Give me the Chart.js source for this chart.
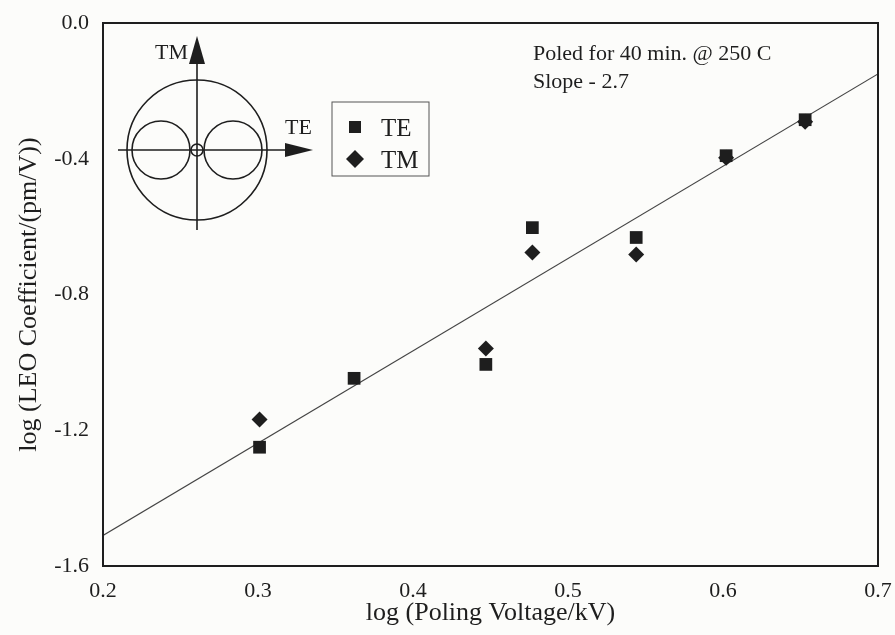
<!DOCTYPE html>
<html>
<head>
<meta charset="utf-8">
<script src="https://cdn.jsdelivr.net/npm/chart.js@4.4.1/dist/chart.umd.min.js"></script>
<style>
  html, body { margin: 0; padding: 0; background: #fcfcfa; }
</style>
</head>
<body>
<canvas id="myChart" width="895" height="635"></canvas>
<script>
'use strict';
// log poling voltage vs log LEO coefficient
let voltTE = [0.301, 0.362, 0.447, 0.477, 0.544, 0.602, 0.653];
let coeffTE = [-1.25, -1.047, -1.006, -0.603, -0.632, -0.391, -0.285];
let voltTM = [0.301, 0.447, 0.477, 0.544, 0.602, 0.653];
let coeffTM = [-1.168, -0.959, -0.676, -0.682, -0.397, -0.291];
let fitX = [0.2, 0.7];
let fitY = [-1.51, -0.15];
let xTicks = [0.2, 0.3, 0.4, 0.5, 0.6, 0.7];
let yTicks = [0, -0.4, -0.8, -1.2, -1.6];
let notes = ['Poled for 40 min. @ 250 C', 'Slope - 2.7'];

const ink = '#1e1e1e';
const serif = '"Liberation Serif", "Times New Roman", serif';

function toPoints(xs, ys) {
    let pts = [];
    for (let i = 0; i < xs.length; i++) {
        pts.push({ x: xs[i], y: ys[i] });
    }
    return pts;
}

// frame, polarisation sketch, legend box and notes
const decor = {
    id: 'decor',
    afterDraw(chart) {
        const ctx = chart.ctx;
        const a = chart.chartArea;
        ctx.save();
        ctx.strokeStyle = ink;
        ctx.lineWidth = 2;
        ctx.strokeRect(a.left, a.top, a.right - a.left, a.bottom - a.top);

        // sketch: outer circle, two lobes, axes with arrows
        const cx = a.left + 94, cy = a.top + 127;
        ctx.lineWidth = 1.6;
        ctx.beginPath(); ctx.arc(cx, cy, 70, 0, Math.PI * 2); ctx.stroke();
        ctx.beginPath(); ctx.arc(cx - 36, cy, 29, 0, Math.PI * 2); ctx.stroke();
        ctx.beginPath(); ctx.arc(cx + 36, cy, 29, 0, Math.PI * 2); ctx.stroke();
        ctx.beginPath(); ctx.arc(cx, cy, 6, 0, Math.PI * 2); ctx.stroke();
        ctx.beginPath();
        ctx.moveTo(cx, cy + 80); ctx.lineTo(cx, cy - 88);
        ctx.moveTo(cx - 79, cy); ctx.lineTo(cx + 92, cy);
        ctx.stroke();
        ctx.fillStyle = ink;
        ctx.beginPath();
        ctx.moveTo(cx, cy - 114); ctx.lineTo(cx - 8, cy - 86); ctx.lineTo(cx + 8, cy - 86);
        ctx.closePath(); ctx.fill();
        ctx.beginPath();
        ctx.moveTo(cx + 116, cy); ctx.lineTo(cx + 88, cy - 7); ctx.lineTo(cx + 88, cy + 7);
        ctx.closePath(); ctx.fill();
        ctx.font = '22px ' + serif;
        ctx.textBaseline = 'middle';
        ctx.textAlign = 'right';
        ctx.fillText('TM', cx - 9, cy - 97);
        ctx.textAlign = 'left';
        ctx.fillText('TE', cx + 88, cy - 22);

        // legend box
        const lx = a.left + 229, ly = a.top + 79;
        ctx.strokeStyle = '#555';
        ctx.lineWidth = 1;
        ctx.strokeRect(lx, ly, 97, 74);
        ctx.font = '25px ' + serif;
        chart.data.datasets.forEach((ds, i) => {
            if (!ds.showInLegend) return;
            const my = ly + 25 + i * 32;
            ctx.fillStyle = ink;
            ctx.beginPath();
            if (ds.pointStyle === 'rect') {
                ctx.rect(lx + 17, my - 6, 12, 12);
            } else {
                ctx.moveTo(lx + 23, my - 9); ctx.lineTo(lx + 32, my);
                ctx.lineTo(lx + 23, my + 9); ctx.lineTo(lx + 14, my);
                ctx.closePath();
            }
            ctx.fill();
            ctx.fillText(ds.label, lx + 49, my + 2);
        });

        // notes in the top right
        ctx.font = '22px ' + serif;
        ctx.fillStyle = ink;
        notes.forEach((t, i) => {
            ctx.fillText(t, a.left + 430, a.top + 31 + i * 28);
        });
        ctx.restore();
    }
};

let ctx = document.getElementById('myChart').getContext('2d');
let myChart = new Chart(ctx, {
    type: 'scatter',
    data: {
        datasets: [{
            label: 'TE',
            data: toPoints(voltTE, coeffTE),
            pointStyle: 'rect',
            pointRadius: 9,
            backgroundColor: ink,
            borderColor: ink,
            borderWidth: 0,
            showInLegend: true
        }, {
            label: 'TM',
            data: toPoints(voltTM, coeffTM),
            pointStyle: 'rectRot',
            pointRadius: 8,
            backgroundColor: ink,
            borderColor: ink,
            borderWidth: 0,
            showInLegend: true
        }, {
            label: 'fit',
            type: 'line',
            data: toPoints(fitX, fitY),
            borderColor: '#444',
            borderWidth: 1.2,
            pointRadius: 0,
            fill: false
        }]
    },
    options: {
        responsive: false,
        animation: false,
        devicePixelRatio: 1,
        layout: { padding: { top: 23, right: 17, left: 0, bottom: 0 } },
        plugins: { legend: { display: false }, tooltip: { enabled: false } },
        scales: {
            x: {
                type: 'linear',
                min: 0.2,
                max: 0.7,
                afterBuildTicks: (axis) => { axis.ticks = xTicks.map(v => ({ value: v })); },
                afterFit: (axis) => {
                    axis.height = 69;
                    axis.paddingLeft = 0;
                    axis.paddingRight = 0;
                },
                grid: { display: false, drawTicks: false },
                border: { display: false },
                ticks: {
                    padding: 12,
                    color: ink,
                    font: { family: serif, size: 22 },
                    callback: (v) => Number(v).toFixed(1)
                },
                title: {
                    display: true,
                    text: 'log (Poling Voltage/kV)',
                    color: ink,
                    font: { family: serif, size: 26 },
                    padding: { top: 0, bottom: 6 }
                }
            },
            y: {
                type: 'linear',
                min: -1.6,
                max: 0,
                afterBuildTicks: (axis) => { axis.ticks = yTicks.map(v => ({ value: v })); },
                afterFit: (axis) => {
                    axis.width = 103;
                    axis.paddingTop = 0;
                    axis.paddingBottom = 0;
                },
                grid: { display: false, drawTicks: false },
                border: { display: false },
                ticks: {
                    padding: 14,
                    color: ink,
                    font: { family: serif, size: 22 },
                    callback: (v) => Number(v).toFixed(1)
                },
                title: {
                    display: true,
                    text: 'log (LEO Coefficient/(pm/V))',
                    color: ink,
                    font: { family: serif, size: 26 },
                    padding: { top: 14, bottom: 0 }
                }
            }
        }
    },
    plugins: [decor]
});
</script>
</body>
</html>
